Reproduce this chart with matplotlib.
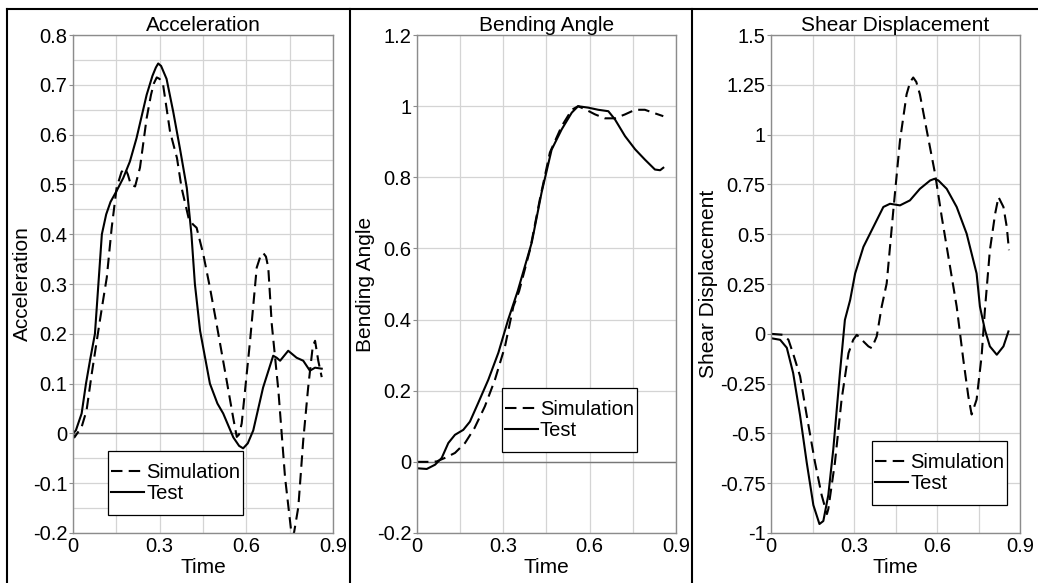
import matplotlib
matplotlib.use('Agg')
import matplotlib.pyplot as plt
from matplotlib.lines import Line2D
from matplotlib.patches import Rectangle
from matplotlib.ticker import MultipleLocator, FuncFormatter

plt.rcParams['font.family'] = ['Liberation Sans', 'DejaVu Sans']
plt.rcParams['axes.unicode_minus'] = False

# Acceleration
acc_sim_t = [0.0, 0.005, 0.03, 0.047, 0.065, 0.093, 0.105, 0.117, 0.134, 0.151, 0.168, 0.18, 0.19,
             0.2, 0.215, 0.232, 0.255, 0.27, 0.28, 0.29, 0.3, 0.312, 0.336, 0.36, 0.376, 0.4, 0.415,
             0.428, 0.451, 0.474, 0.497, 0.532, 0.555, 0.567, 0.575, 0.584, 0.613, 0.636, 0.65,
             0.659, 0.668, 0.676, 0.688, 0.711, 0.734, 0.757, 0.765, 0.78, 0.797, 0.814, 0.83,
             0.838, 0.849, 0.861]
acc_sim_v = [0.0, -0.008, 0.013, 0.046, 0.12, 0.226, 0.27, 0.313, 0.413, 0.493, 0.525, 0.533, 0.52,
             0.5, 0.496, 0.534, 0.633, 0.68, 0.703, 0.715, 0.712, 0.7, 0.606, 0.553, 0.493, 0.433,
             0.42, 0.413, 0.36, 0.293, 0.22, 0.106, 0.03, -0.007, -0.002, 0.02, 0.186, 0.333, 0.358,
             0.362, 0.355, 0.333, 0.22, 0.086, -0.088, -0.205, -0.2, -0.148, -0.014, 0.092, 0.175,
             0.186, 0.146, 0.113]
acc_test_t = [0.0, 0.01, 0.03, 0.045, 0.06, 0.076, 0.088, 0.1, 0.115, 0.13, 0.151, 0.174, 0.197,
              0.22, 0.255, 0.275, 0.287, 0.295, 0.305, 0.324, 0.347, 0.37, 0.394, 0.41, 0.422, 0.44,
              0.474, 0.5, 0.52, 0.555, 0.575, 0.589, 0.605, 0.624, 0.658, 0.693, 0.705, 0.717,
              0.745, 0.774, 0.797, 0.82, 0.838, 0.861]
acc_test_v = [0.0, 0.006, 0.04, 0.1, 0.15, 0.2, 0.3, 0.4, 0.44, 0.465, 0.487, 0.513, 0.546, 0.593,
              0.68, 0.718, 0.735, 0.743, 0.738, 0.712, 0.646, 0.573, 0.493, 0.4, 0.3, 0.206, 0.1,
              0.06, 0.04, -0.008, -0.025, -0.03, -0.02, 0.006, 0.092, 0.156, 0.152, 0.146, 0.166,
              0.152, 0.146, 0.126, 0.132, 0.13]

# Bending angle
bend_sim_t = [0.0, 0.04, 0.068, 0.097, 0.132, 0.167, 0.2, 0.236, 0.271, 0.306, 0.335, 0.355, 0.393,
              0.427, 0.462, 0.503, 0.538, 0.56, 0.583, 0.619, 0.653, 0.688, 0.723, 0.758, 0.792,
              0.827, 0.856]
bend_sim_v = [0.0, 0.0, 0.001, 0.011, 0.025, 0.053, 0.095, 0.156, 0.231, 0.325, 0.437, 0.48, 0.597,
              0.738, 0.87, 0.944, 0.99, 1.0, 0.992, 0.977, 0.966, 0.966, 0.977, 0.99, 0.99, 0.98, 0.972]
bend_test_t = [0.0, 0.034, 0.063, 0.086, 0.109, 0.132, 0.161, 0.184, 0.213, 0.248, 0.283, 0.317,
               0.35, 0.399, 0.433, 0.468, 0.503, 0.538, 0.56, 0.595, 0.63, 0.665, 0.688,
               0.723, 0.758, 0.792, 0.827, 0.845, 0.856]
bend_test_v = [-0.018, -0.02, -0.008, 0.011, 0.053, 0.076, 0.09, 0.113, 0.166, 0.231, 0.307, 0.4,
               0.48, 0.617, 0.757, 0.878, 0.935, 0.982, 1.0, 0.996, 0.99, 0.986, 0.963, 0.916,
               0.879, 0.85, 0.822, 0.82, 0.827]

# Shear displacement
shear_sim_t = [0.0, 0.044, 0.063, 0.08, 0.105, 0.129, 0.159, 0.183, 0.202, 0.207, 0.231, 0.255, 0.28,
               0.297, 0.31, 0.328, 0.352, 0.364, 0.382, 0.4, 0.418, 0.442, 0.466, 0.49, 0.503, 0.514,
               0.525, 0.538, 0.563, 0.593, 0.617, 0.647, 0.671, 0.695, 0.713, 0.725, 0.743, 0.761,
               0.773, 0.791, 0.81, 0.822, 0.84, 0.852, 0.86]
shear_sim_v = [0.0, -0.005, -0.03, -0.1, -0.213, -0.41, -0.646, -0.81, -0.905, -0.88, -0.646, -0.33,
               -0.097, -0.03, -0.005, -0.03, -0.063, -0.072, -0.013, 0.137, 0.253, 0.62, 0.97, 1.203,
               1.265, 1.287, 1.265, 1.203, 1.02, 0.803, 0.587, 0.337, 0.137, -0.13, -0.313, -0.405,
               -0.33, -0.113, 0.12, 0.42, 0.603, 0.687, 0.637, 0.537, 0.42]
shear_test_t = [0.0, 0.033, 0.057, 0.08, 0.105, 0.129, 0.153, 0.175, 0.189, 0.207, 0.225, 0.249,
                0.267, 0.286, 0.304, 0.334, 0.37, 0.406, 0.43, 0.466, 0.502, 0.538, 0.575, 0.59,
                0.605, 0.635, 0.671, 0.707, 0.743, 0.755, 0.773, 0.791, 0.816, 0.84, 0.858]
shear_test_v = [-0.022, -0.03, -0.07, -0.197, -0.41, -0.646, -0.86, -0.955, -0.94, -0.81, -0.58,
                -0.197, 0.07, 0.17, 0.303, 0.437, 0.537, 0.637, 0.653, 0.645, 0.67, 0.728, 0.77,
                0.778, 0.77, 0.728, 0.637, 0.503, 0.303, 0.137, 0.02, -0.063, -0.105, -0.063, 0.012]

panels = [
    ('Acceleration', acc_sim_t, acc_sim_v, acc_test_t, acc_test_v, (-0.2, 0.8), 0.1, 0.05,
     [0.0703, 0.0858, 0.2505, 0.854], -0.158, (0.135, 0.036)),
    ('Bending Angle', bend_sim_t, bend_sim_v, bend_test_t, bend_test_v, (-0.2, 1.2), 0.2, None,
     [0.4017, 0.0858, 0.2495, 0.854], -0.162, (0.327, 0.163)),
    ('Shear Displacement', shear_sim_t, shear_sim_v, shear_test_t, shear_test_v, (-1, 1.5), 0.25, None,
     [0.7428, 0.0858, 0.2399, 0.854], -0.213, (0.406, 0.056)),
]

LEG_VPAD = 9  # extra px above/below legend entries (box is tall but tight at the sides)


def fmt(v, pos):
    v = round(v, 4)
    if v == 0:
        return '0'
    return f'{v:g}'


fig = plt.figure(figsize=(10.38, 5.83), dpi=100)
legends = []

for title, st, sv, tt, tv, ylim, ystep, yminor, rect, ylab_x, leg_pos in panels:
    ax = fig.add_axes(rect)
    ax.set_xlim(0, 0.9)
    ax.set_ylim(*ylim)
    ax.xaxis.set_major_locator(MultipleLocator(0.3))
    ax.xaxis.set_minor_locator(MultipleLocator(0.15))
    ax.yaxis.set_major_locator(MultipleLocator(ystep))
    if yminor:
        ax.yaxis.set_minor_locator(MultipleLocator(yminor))
    ax.xaxis.set_major_formatter(FuncFormatter(fmt))
    ax.yaxis.set_major_formatter(FuncFormatter(fmt))
    ax.grid(True, which='both', color='#d4d4d4', lw=0.9)
    ax.set_axisbelow(True)
    ax.axhline(0, color='#777777', lw=1.0, zorder=1)
    for s in ax.spines.values():
        s.set_color('#8c8c8c')
        s.set_linewidth(1.0)
    ax.tick_params(which='both', direction='out', length=3, color='#8c8c8c', labelsize=14.5, pad=1)
    ax.tick_params(axis='x', which='both', length=0, pad=3)
    ax.tick_params(which='minor', length=0)

    ax.plot(st, sv, color='black', lw=1.5, dashes=(5.5, 3), label='Simulation')
    ax.plot(tt, tv, color='black', lw=1.5, label='Test')

    ax.set_title(title, fontsize=15, pad=2)
    ax.set_xlabel('Time', fontsize=15, labelpad=1)
    ax.set_ylabel(title, fontsize=15)
    ax.yaxis.set_label_coords(ylab_x, 0.5)

    ax_h = rect[3] * 583
    anchor = (leg_pos[0], leg_pos[1] + LEG_VPAD / ax_h)
    leg = ax.legend(loc='lower left', bbox_to_anchor=anchor, borderaxespad=0, fontsize=14.5,
                    handlelength=1.65, handletextpad=0.1, labelspacing=0.1, borderpad=0.15,
                    frameon=False)
    legends.append((ax, leg))

# draw a taller frame behind each legend
fig.canvas.draw()
for ax, leg in legends:
    bb = leg.get_window_extent()
    inv = ax.transAxes.inverted()
    (x0, y0), (x1, y1) = inv.transform([[bb.x0, bb.y0 - LEG_VPAD], [bb.x1, bb.y1 + LEG_VPAD]])
    ax.add_patch(Rectangle((x0, y0), x1 - x0, y1 - y0, transform=ax.transAxes, facecolor='white',
                           edgecolor='black', lw=0.9, zorder=4.9, clip_on=False))

# panel frame lines
for xf in [7 / 1038, 350 / 1038, 692 / 1038]:
    fig.add_artist(Line2D([xf, xf], [0, 1 - 9 / 583], transform=fig.transFigure, color='black', lw=1.5))
fig.add_artist(Line2D([7 / 1038, 1], [1 - 9 / 583, 1 - 9 / 583], transform=fig.transFigure,
                      color='black', lw=1.5))

fig.savefig('out.png', dpi=100)
